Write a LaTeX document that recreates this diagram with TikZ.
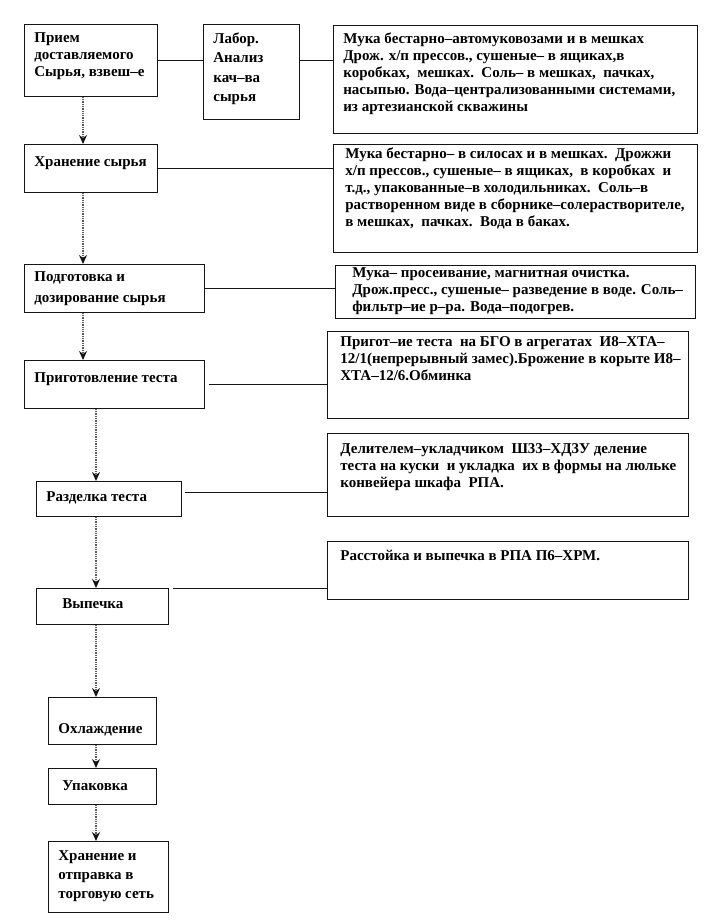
\documentclass[tikz,border=0pt]{standalone}
\usepackage{fontspec}
\setmainfont{Liberation Serif}
\usetikzlibrary{arrows.meta,calc}
\definecolor{ink}{RGB}{20,20,20}
% text block: [left pad]{width}{height}{top pad}{text}
\newcommand\cell[5][10]{\parbox[c][#3pt][t]{#2pt}{\leftskip=#1pt\rightskip=0pt plus 1fil\vspace*{#4pt}#5}}
\tikzset{
  >={Stealth[length=9pt,width=8pt,ink]},
  box/.style={draw=ink,line width=0.7pt,inner sep=0pt,anchor=north west,
    font=\bfseries\fontsize{15}{17}\selectfont},
  flow/.style={->,densely dotted,line width=1.3pt,draw=ink!70},
  link/.style={draw=ink,line width=0.8pt},
}
\begin{document}
\begin{tikzpicture}[x=1pt,y=-1pt]
  \fill[white] (0,0) rectangle (708,924);
  \useasboundingbox (0,0) rectangle (708,924);
  \coordinate (s1) at (83,0);
  \coordinate (s2) at (96,0);

  % left column
  \node[box] (b1) at (24,24) {\cell{133}{72}{8}{Прием\\доставляемого\\Сырья, взвеш–е}};
  \node[box] (b2) at (203,24) {\cell{96}{95}{8}{Лабор.\\[2.5pt]Анализ\\[2.5pt]кач–ва\\[2.5pt]сырья}};
  \node[box] (b4) at (24,144) {\cell{133}{48}{12}{Хранение сырья}};
  \node[box] (b6) at (24,264) {\cell{180}{48}{7}{Подготовка и\\[4pt]дозирование сырья}};
  \node[box] (b8) at (24,360) {\cell{180}{48}{12}{Приготовление теста}};
  \node[box] (b10) at (36,481) {\cell{145}{35}{10}{Разделка теста}};
  \node[box] (b12) at (36,588) {\cell[26]{132}{36}{10}{Выпечка}};
  \node[box] (b14) at (48,697) {\cell{108}{47}{26}{Охлаждение}};
  \node[box] (b15) at (48,768) {\cell[14]{108}{36}{12}{Упаковка}};
  \node[box] (b16) at (48,841) {\cell{120}{71}{9}{Хранение и\\[2pt]отправка в\\[2pt]торговую сеть}};

  % right column
  \node[box] (b3) at (333,25) {\cell{364}{108}{7}{Мука бестарно–автомуковозами и в мешках\\Дрож. х/п прессов., сушеные– в ящиках,в\\коробках,\ \ мешках.\ \ Соль– в мешках,\ \ пачках,\\насыпью. Вода–централизованными системами,\\из артезианской скважины}};
  \node[box] (b5) at (333,144) {\cell[12]{364}{108}{3}{Мука бестарно– в силосах и в мешках.\ \ Дрожжи\\х/п прессов., сушеные– в ящиках,\ \ в коробках\ \ и\\т.д., упакованные–в холодильниках.\ \ Соль–в\\растворенном виде в сборнике–солерастворителе,\\в мешках,\ \ пачках.\ \ Вода в баках.}};
  \node[box] (b7) at (335,265) {\cell[17]{360}{53}{2}{Мука– просеивание, магнитная очистка.\\Дрож.пресс., сушеные– разведение в воде. Соль–\\фильтр–ие р–ра. Вода–подогрев.}};
  \node[box] (b9) at (327,331) {\cell[13]{361}{87}{5}{Пригот–ие теста\ \ на БГО в агрегатах\ \ И8–ХТА–\\12/1(непрерывный замес).Брожение в корыте И8–\\ХТА–12/6.Обминка}};
  \node[box] (b11) at (327,433) {\cell[13]{361}{83}{10}{Делителем–укладчиком\ \ Ш33–ХД3У деление\\теста на куски\ \ и укладка\ \ их в формы на люльке\\конвейера шкафа\ \ РПА.}};
  \node[box] (b13) at (327,541) {\cell[13]{361}{58}{9}{Расстойка и выпечка в РПА П6–ХРМ.}};

  % links
  \draw[link] (b1.east) -- (b1.east -| b2.west);
  \draw[link] (b1.east -| b2.east) -- (b1.east -| b3.west);
  \draw[link] (b4.east) -- (b4.east -| b5.west);
  \draw[link] (b6.east) -- (b6.east -| b7.west);
  \draw[link] ([xshift=4pt]b8.east) -- (b8.east -| b9.west);
  \draw[link] ([shift={(3pt,6.5pt)}]b10.east) -- ([yshift=6.5pt]b10.east -| b11.west);
  \draw[link] ([xshift=4pt]b12.north east) -- (b12.north east -| b13.west);

  % flow
  \draw[flow] (b1.south -| s1) -- (b4.north -| s1);
  \draw[flow] (b4.south -| s1) -- (b6.north -| s1);
  \draw[flow] (b6.south -| s1) -- (b8.north -| s1);
  \draw[flow] (b8.south -| s2) -- (b10.north -| s2);
  \draw[flow] (b10.south -| s2) -- (b12.north -| s2);
  \draw[flow] (b12.south -| s2) -- (b14.north -| s2);
  \draw[flow] (b14.south -| s2) -- (b15.north -| s2);
  \draw[flow] (b15.south -| s2) -- (b16.north -| s2);
\end{tikzpicture}
\end{document}
